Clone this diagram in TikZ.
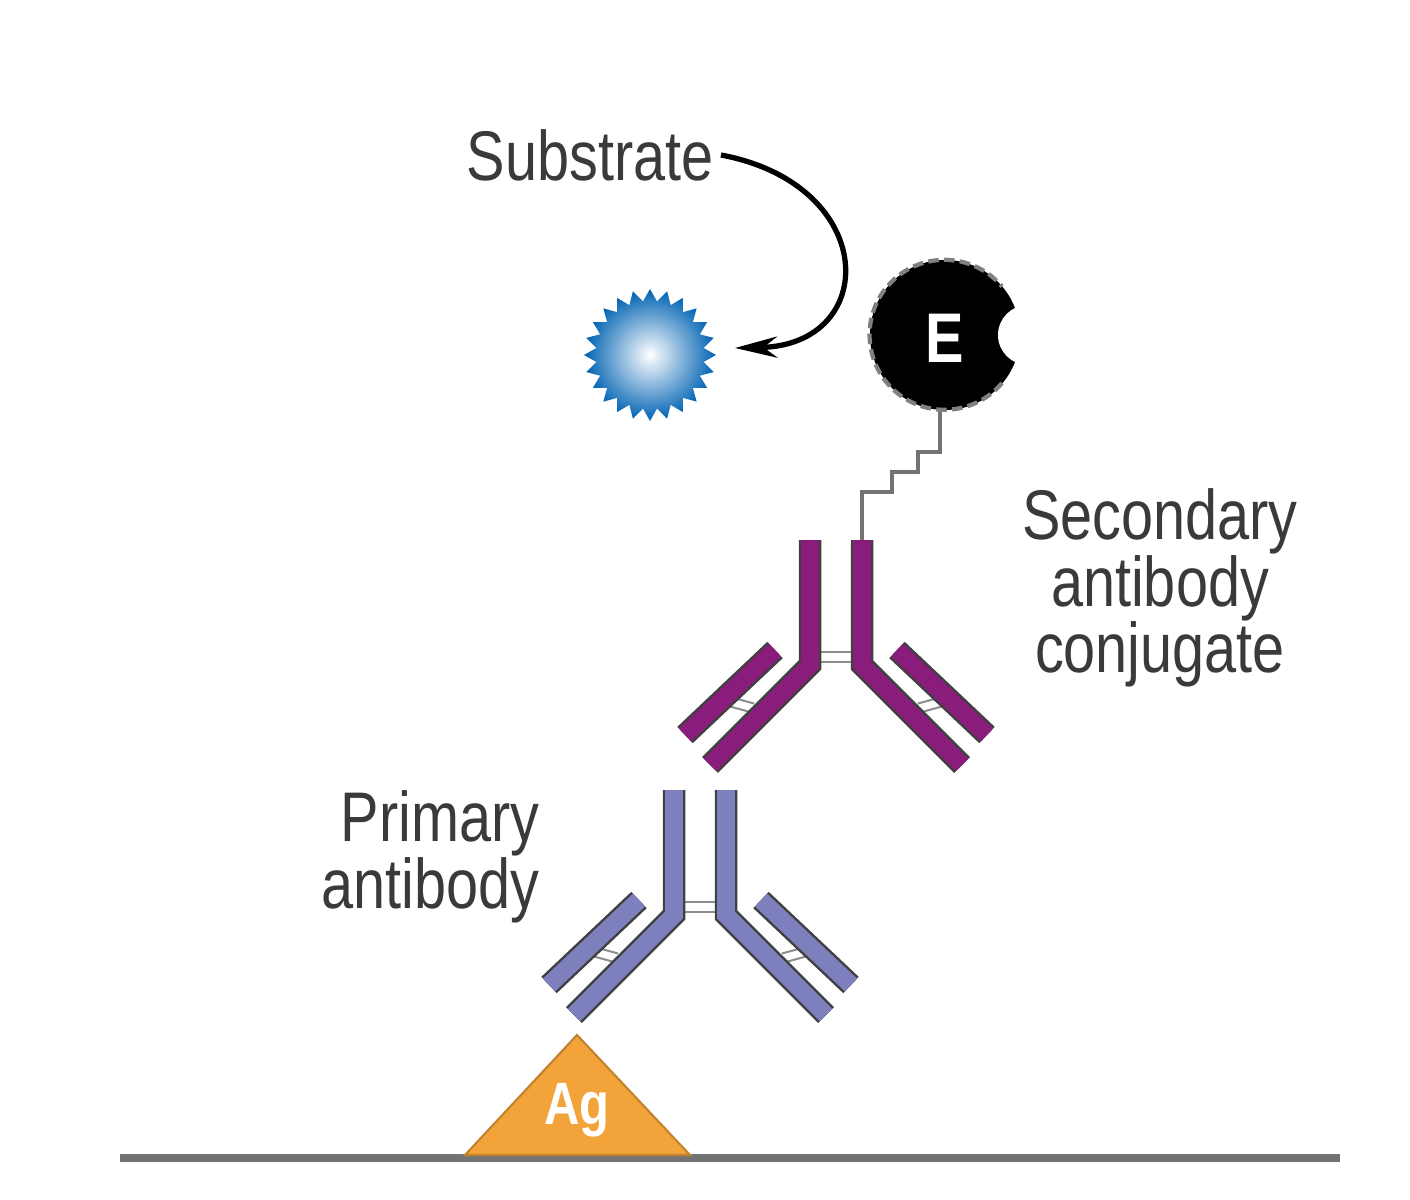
\documentclass[tikz,border=0pt]{standalone}
\usepackage{fontspec}
\setmainfont{Liberation Sans}
\usetikzlibrary{arrows.meta}
\definecolor{purp}{HTML}{8A1C7C}
\definecolor{lav}{HTML}{7E80BE}
\definecolor{agorange}{HTML}{F2A43A}
\definecolor{txtgray}{HTML}{3A3A3A}
\tikzset{
  label text/.style={text=txtgray, align=center, font=\fontsize{20}{23}\selectfont, xscale=0.82, inner sep=0pt},
  chain/.style={draw=black!75, line width=0.7pt, double=#1, double distance=5pt},
  hinge/.style={draw=black!45, line width=0.6pt, double=white, double distance=2pt},
}
% one antibody, top centre at (#2), colour #1
\newcommand{\antibody}[2]{
  \begin{scope}[shift={(#2)}]
    \draw[hinge] (-26,117) -- (26,117);
    \draw[hinge] (-83,168) -- (-105,162);
    \draw[hinge] (83,168) -- (105,162);
    \draw[chain=#1] (-26,0) -- (-26,125) -- (-126,225);
    \draw[chain=#1] (26,0) -- (26,125) -- (126,225);
    \draw[chain=#1] (-61,110) -- (-151,195);
    \draw[chain=#1] (61,110) -- (151,195);
  \end{scope}
}
\begin{document}
\begin{tikzpicture}[x=0.1mm,y=-0.1mm]
  \useasboundingbox (0,0) rectangle (1410,1200);

  % surface and antigen
  \draw[black!55, line width=2pt] (120,1158) -- (1340,1158);
  \draw[fill=agorange, draw=agorange!80!black, line width=0.6pt] (465,1155) -- (577,1035) -- (690,1155) -- cycle;
  \node[label text, text=white, font=\bfseries\fontsize{17}{20}\selectfont] (ag) at (577,1110) {Ag};

  % antibodies
  \antibody{lav}{700,790}
  \antibody{purp}{836,540}

  % linker to enzyme
  \draw[black!55, line width=1.2pt] (862,540) -- (862,492) -- (892,492) -- (892,472) -- (918,472) -- (918,452) -- (940,452) -- (940,410);

  % enzyme
  \begin{scope}
    \clip (860,250) rectangle (1040,420);
    \fill[black] (945,335) circle (75);
    \fill[white] (1028,335) circle (30);
  \end{scope}
  \draw[black!50, line width=1.2pt, dash pattern=on 3pt off 1.5pt]
    (1002,383) arc[start angle=40, end angle=320, radius=75];
  \node[label text, text=white, font=\bfseries\fontsize{20}{23}\selectfont] (enz) at (945,338) {E};

  % substrate
  \shade[inner color=white, outer color=blue!45!cyan!70!black]
    plot[samples=49, domain=0:360, variable=\t] ({650+(mod(round(\t/7.5),2)==0 ? 66 : 54)*cos(\t)}, {355+(mod(round(\t/7.5),2)==0 ? 66 : 54)*sin(\t)}) -- cycle;
  \coordinate (sub) at (650,355);

  % labels
  \node[label text] (substrate) at (590,155) {Substrate};
  \draw[black, line width=1.5pt, -{Stealth[length=12pt, width=6pt]}]
    ([xshift=2pt]substrate.east) .. controls (880,185) and (880,345) .. (735,348);
  \node[label text] (second) at (1160,588) {Secondary\\[-4pt]antibody\\[-4pt]conjugate};
  \node[label text, align=right, anchor=east] (prim) at (540,857) {Primary\\[-4pt]antibody};
\end{tikzpicture}
\end{document}
